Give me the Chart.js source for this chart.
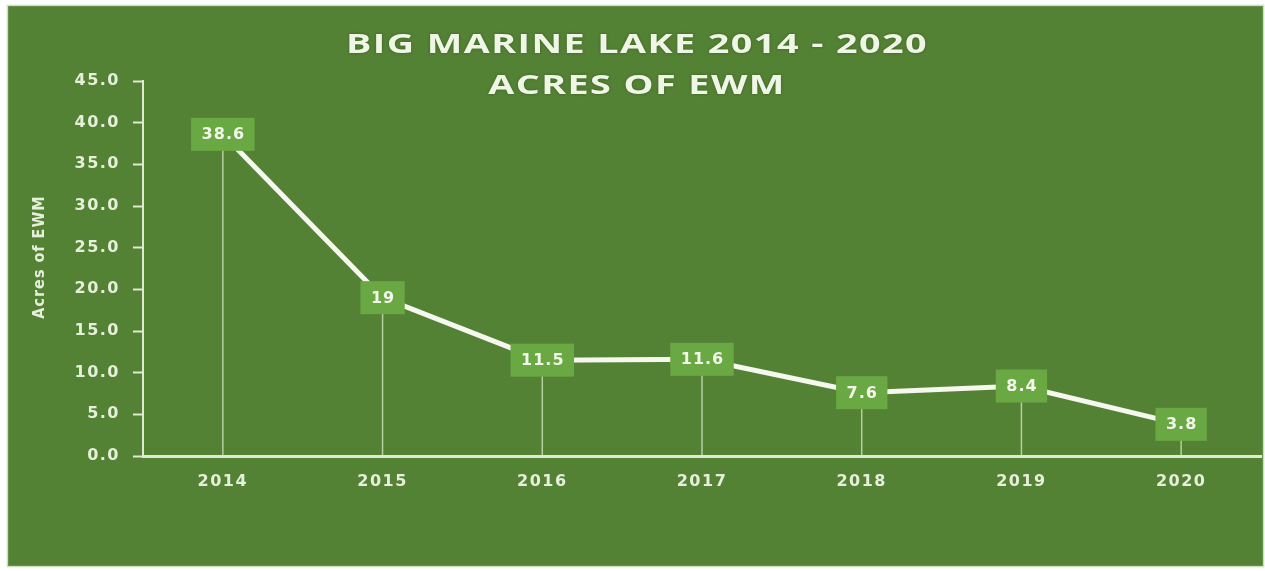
<!DOCTYPE html>
<html>
<head>
<meta charset="utf-8">
<title>Big Marine Lake EWM</title>
<script src="https://cdn.jsdelivr.net/npm/chart.js@4/dist/chart.umd.min.js"></script>
<style>
  html, body { margin: 0; padding: 0; background: #ffffff; }
  #wrap { position: absolute; left: 0; top: 0; width: 1265px; height: 571px; }
</style>
</head>
<body>
<div id="wrap"><canvas id="ewmChart"></canvas></div>
<script>
'use strict'

// survey years and mapped acres of Eurasian watermilfoil
const years = ['2014', '2015', '2016', '2017', '2018', '2019', '2020'];
const acres = [38.6, 19, 11.5, 11.6, 7.6, 8.4, 3.8];

const yMin = 0;
const yMax = 45;
const yStep = 5;

const titleLines = ['BIG MARINE LAKE 2014 - 2020', 'ACRES OF EWM'];
const axisTitle = 'Acres of EWM';

const GREEN = '#548235';
const BOX_GREEN = '#69a843';
const PALE = '#e6efd9';
const LINE_WHITE = '#f6f7ef';

window.addEventListener('DOMContentLoaded', function () {
    const canvas = document.getElementById('ewmChart');

    // green panel with a thin light frame
    const panelBackground = {
        id: 'panelBackground',
        beforeDraw(chart) {
            const ctx = chart.ctx;
            ctx.save();
            ctx.fillStyle = '#ffffff';
            ctx.fillRect(0, 0, chart.width, chart.height);
            ctx.fillStyle = GREEN;
            ctx.fillRect(8, 6, chart.width - 10, chart.height - 11);
            ctx.strokeStyle = 'rgba(190, 215, 170, 0.8)';
            ctx.lineWidth = 1.5;
            ctx.strokeRect(7.5, 5.5, chart.width - 9, chart.height - 10);
            ctx.restore();
            // slightly spaced-out lettering for all the axis text
            ctx.letterSpacing = '1.5px';
        }
    };

    // thin lines from each point down to the category axis
    const dropLines = {
        id: 'dropLines',
        beforeDatasetsDraw(chart) {
            const ctx = chart.ctx;
            const bottom = chart.chartArea.bottom;
            ctx.save();
            ctx.strokeStyle = 'rgba(215, 232, 195, 0.75)';
            ctx.lineWidth = 1.5;
            chart.getDatasetMeta(0).data.forEach(pt => {
                ctx.beginPath();
                ctx.moveTo(pt.x, pt.y);
                ctx.lineTo(pt.x, bottom - 1);
                ctx.stroke();
            });
            ctx.restore();
        }
    };

    // value labels in filled boxes sitting on the points
    const valueBoxes = {
        id: 'valueBoxes',
        afterDatasetsDraw(chart) {
            const ctx = chart.ctx;
            const values = chart.data.datasets[0].data;
            ctx.save();
            ctx.font = 'bold 16px "DejaVu Sans"';
            ctx.letterSpacing = '1px';
            ctx.textAlign = 'center';
            ctx.textBaseline = 'middle';
            chart.getDatasetMeta(0).data.forEach((pt, i) => {
                const label = String(values[i]);
                const tw = ctx.measureText(label).width;
                const w = tw + 20;
                const h = 33;
                ctx.fillStyle = BOX_GREEN;
                ctx.fillRect(pt.x - w / 2, pt.y - h / 2, w, h);
                ctx.fillStyle = '#f2f7ea';
                ctx.fillText(label, pt.x + 0.5, pt.y + 1);
            });
            ctx.restore();
        }
    };

    // two-line heading drawn widened, plus the rotated value-axis caption
    const chartHeading = {
        id: 'chartHeading',
        afterDraw(chart) {
            const ctx = chart.ctx;
            const cx = 637;
            const baselines = [53, 94];
            ctx.save();
            ctx.font = 'bold 26px "Open Sans"';
            ctx.letterSpacing = '1px';
            ctx.textAlign = 'center';
            ctx.textBaseline = 'alphabetic';
            ctx.fillStyle = '#eff6e6';
            ctx.shadowColor = 'rgba(40, 70, 20, 0.6)';
            ctx.shadowBlur = 3;
            titleLines.forEach((line, i) => {
                ctx.save();
                ctx.translate(cx, baselines[i]);
                ctx.scale(1.45, 1);
                ctx.fillText(line, 0, 0);
                ctx.restore();
            });
            ctx.restore();

            ctx.save();
            ctx.font = 'bold 16px "DejaVu Sans Condensed", "DejaVu Sans"';
            ctx.letterSpacing = '1px';
            ctx.fillStyle = PALE;
            ctx.textAlign = 'center';
            ctx.textBaseline = 'middle';
            ctx.translate(40, 257);
            ctx.rotate(-Math.PI / 2);
            ctx.fillText(axisTitle, 0, 0);
            ctx.restore();
        }
    };

    new Chart(canvas, {
        type: 'line',
        data: {
            labels: years,
            datasets: [{
                label: axisTitle,
                data: acres,
                borderColor: LINE_WHITE,
                borderWidth: 5,
                pointRadius: 0,
                pointHoverRadius: 0,
                tension: 0,
                fill: false
            }]
        },
        options: {
            responsive: true,
            maintainAspectRatio: false,
            animation: false,
            events: [],
            layout: { padding: { left: 8, right: 4, top: 81, bottom: 5 } },
            plugins: {
                legend: { display: false },
                title: { display: false },
                tooltip: { enabled: false }
            },
            scales: {
                x: {
                    offset: true,
                    grid: { display: true, drawOnChartArea: false, drawTicks: false },
                    border: { display: true, color: '#dfead0', width: 3 },
                    ticks: {
                        color: PALE,
                        padding: 16,
                        font: { family: '"DejaVu Sans"', weight: 'bold', size: 16 }
                    },
                    afterFit(scale) { scale.height = 110; }
                },
                y: {
                    min: yMin,
                    max: yMax,
                    grid: {
                        display: true,
                        drawOnChartArea: false,
                        drawTicks: true,
                        tickLength: 10,
                        tickColor: '#dfead0',
                        tickWidth: 2
                    },
                    border: { display: true, color: '#dfead0', width: 2 },
                    ticks: {
                        stepSize: yStep,
                        color: PALE,
                        padding: 13,
                        font: { family: '"DejaVu Sans"', weight: 'bold', size: 16 },
                        callback: v => v.toFixed(1)
                    },
                    afterFit(scale) { scale.width = 135; }
                }
            }
        },
        plugins: [panelBackground, dropLines, valueBoxes, chartHeading]
    });
});
</script>
</body>
</html>
